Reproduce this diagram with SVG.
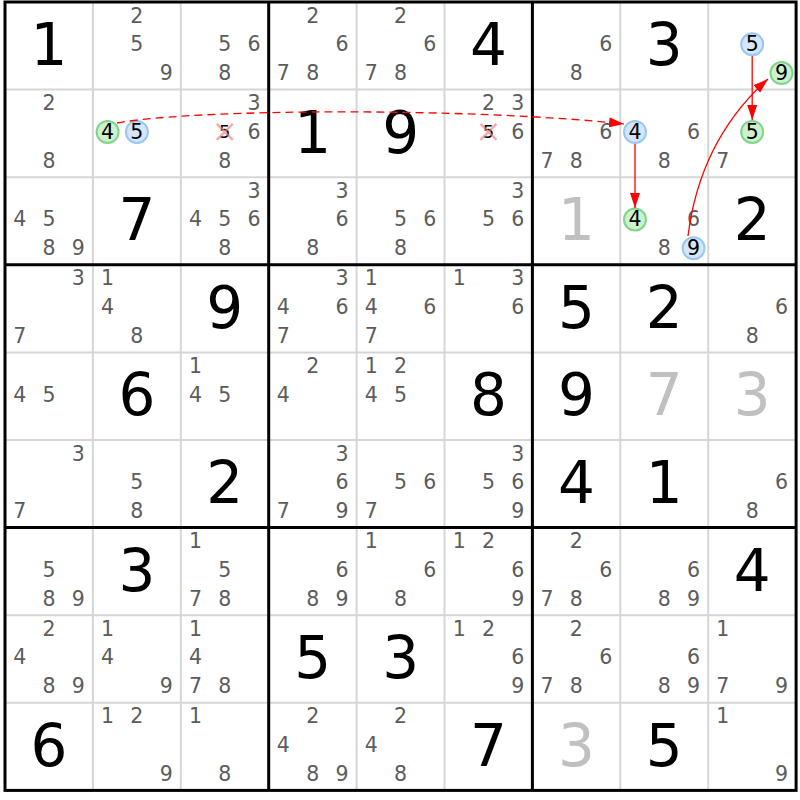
<svg xmlns="http://www.w3.org/2000/svg" width="800" height="800" viewBox="0 0 800 800">
<style>
text{font-family:"DejaVu Sans","Verdana",sans-serif;text-anchor:middle}
.c{font-size:20.5px;fill:#5c5c5c;dominant-baseline:central}
.k{font-size:20.5px;fill:#000;dominant-baseline:central}
.e{font-size:18px;fill:#000;dominant-baseline:central}
.g{font-size:58px;fill:#000}
.s{font-size:58px;fill:#c0c0c0}
.thin{stroke:#d6d6d6;stroke-width:2;fill:none}
.thick{stroke:#000;stroke-width:3;fill:none}
.gr{fill:#cdf0cd;stroke:#7fd48a;stroke-width:2}
.bl{fill:#d5e6fb;stroke:#9ac6f3;stroke-width:2}
.x{stroke:#f08080;stroke-width:2.5;opacity:0.65}
.lk{stroke:#ff0000;stroke-width:1.3;fill:none}
</style>
<defs>
<marker id="ah" viewBox="0 0 15 10" refX="15" refY="5" markerWidth="15" markerHeight="10" markerUnits="userSpaceOnUse" orient="auto"><path d="M0,0 L15,5 L0,10 z" fill="#ff0000"/></marker>
</defs>
<rect x="0" y="0" width="800" height="800" fill="#fff"/>
<g id="grid">
<path class="thin" d="M92.9,2V790.4M180.8,2V790.4M356.6,2V790.4M444.5,2V790.4M620.3,2V790.4M708.2,2V790.4M5,89.6H796.1M5,177.2H796.1M5,352.4H796.1M5,440H796.1M5,615.2H796.1M5,702.8H796.1"/>
<path class="thick" d="M268.7,2V790.4M532.4,2V790.4M5,264.8H796.1M5,527.6H796.1"/>
<rect class="thick" x="5" y="2" width="791.1" height="788.4"/>
</g>
<!-- Row 0 -->
<g id="r0c0" transform="translate(5,2)"><text class="g" x="44" y="63">1</text></g>
<g id="r0c1" transform="translate(92.9,2)"><text class="c" x="44" y="13.5">2</text><text class="c" x="44" y="42.3">5</text><text class="c" x="73.3" y="71.1">9</text></g>
<g id="r0c2" transform="translate(180.8,2)"><text class="c" x="44" y="42.3">5</text><text class="c" x="73.3" y="42.3">6</text><text class="c" x="44" y="71.1">8</text></g>
<g id="r0c3" transform="translate(268.7,2)"><text class="c" x="44" y="13.5">2</text><text class="c" x="73.3" y="42.3">6</text><text class="c" x="14.7" y="71.1">7</text><text class="c" x="44" y="71.1">8</text></g>
<g id="r0c4" transform="translate(356.6,2)"><text class="c" x="44" y="13.5">2</text><text class="c" x="73.3" y="42.3">6</text><text class="c" x="14.7" y="71.1">7</text><text class="c" x="44" y="71.1">8</text></g>
<g id="r0c5" transform="translate(444.5,2)"><text class="g" x="44" y="63">4</text></g>
<g id="r0c6" transform="translate(532.4,2)"><text class="c" x="73.3" y="42.3">6</text><text class="c" x="44" y="71.1">8</text></g>
<g id="r0c7" transform="translate(620.3,2)"><text class="g" x="44" y="63">3</text></g>
<g id="r0c8" transform="translate(708.2,2)"><circle class="bl" cx="44" cy="42.3" r="11"/><text class="k" x="44" y="42.3">5</text><circle class="gr" cx="73.3" cy="71.1" r="11"/><text class="k" x="73.3" y="71.1">9</text></g>
<!-- Row 1 -->
<g id="r1c0" transform="translate(5,89.6)"><text class="c" x="44" y="13.5">2</text><text class="c" x="44" y="71.1">8</text></g>
<g id="r1c1" transform="translate(92.9,89.6)"><circle class="gr" cx="14.7" cy="42.3" r="11"/><text class="k" x="14.7" y="42.3">4</text><circle class="bl" cx="44" cy="42.3" r="11"/><text class="k" x="44" y="42.3">5</text></g>
<g id="r1c2" transform="translate(180.8,89.6)"><text class="c" x="73.3" y="13.5">3</text><text class="e" x="44" y="42.3">5</text><path class="x" d="M36,34.3L52,50.3M52,34.3L36,50.3"/><text class="c" x="73.3" y="42.3">6</text><text class="c" x="44" y="71.1">8</text></g>
<g id="r1c3" transform="translate(268.7,89.6)"><text class="g" x="44" y="63">1</text></g>
<g id="r1c4" transform="translate(356.6,89.6)"><text class="g" x="44" y="63">9</text></g>
<g id="r1c5" transform="translate(444.5,89.6)"><text class="c" x="44" y="13.5">2</text><text class="c" x="73.3" y="13.5">3</text><text class="e" x="44" y="42.3">5</text><path class="x" d="M36,34.3L52,50.3M52,34.3L36,50.3"/><text class="c" x="73.3" y="42.3">6</text></g>
<g id="r1c6" transform="translate(532.4,89.6)"><text class="c" x="73.3" y="42.3">6</text><text class="c" x="14.7" y="71.1">7</text><text class="c" x="44" y="71.1">8</text></g>
<g id="r1c7" transform="translate(620.3,89.6)"><circle class="bl" cx="14.7" cy="42.3" r="11"/><text class="k" x="14.7" y="42.3">4</text><text class="c" x="73.3" y="42.3">6</text><text class="c" x="44" y="71.1">8</text></g>
<g id="r1c8" transform="translate(708.2,89.6)"><circle class="gr" cx="44" cy="42.3" r="11"/><text class="k" x="44" y="42.3">5</text><text class="c" x="14.7" y="71.1">7</text></g>
<!-- Row 2 -->
<g id="r2c0" transform="translate(5,177.2)"><text class="c" x="14.7" y="42.3">4</text><text class="c" x="44" y="42.3">5</text><text class="c" x="44" y="71.1">8</text><text class="c" x="73.3" y="71.1">9</text></g>
<g id="r2c1" transform="translate(92.9,177.2)"><text class="g" x="44" y="63">7</text></g>
<g id="r2c2" transform="translate(180.8,177.2)"><text class="c" x="73.3" y="13.5">3</text><text class="c" x="14.7" y="42.3">4</text><text class="c" x="44" y="42.3">5</text><text class="c" x="73.3" y="42.3">6</text><text class="c" x="44" y="71.1">8</text></g>
<g id="r2c3" transform="translate(268.7,177.2)"><text class="c" x="73.3" y="13.5">3</text><text class="c" x="73.3" y="42.3">6</text><text class="c" x="44" y="71.1">8</text></g>
<g id="r2c4" transform="translate(356.6,177.2)"><text class="c" x="44" y="42.3">5</text><text class="c" x="73.3" y="42.3">6</text><text class="c" x="44" y="71.1">8</text></g>
<g id="r2c5" transform="translate(444.5,177.2)"><text class="c" x="73.3" y="13.5">3</text><text class="c" x="44" y="42.3">5</text><text class="c" x="73.3" y="42.3">6</text></g>
<g id="r2c6" transform="translate(532.4,177.2)"><text class="s" x="44" y="63">1</text></g>
<g id="r2c7" transform="translate(620.3,177.2)"><circle class="gr" cx="14.7" cy="42.3" r="11"/><text class="k" x="14.7" y="42.3">4</text><text class="c" x="73.3" y="42.3">6</text><text class="c" x="44" y="71.1">8</text><circle class="bl" cx="73.3" cy="71.1" r="11"/><text class="k" x="73.3" y="71.1">9</text></g>
<g id="r2c8" transform="translate(708.2,177.2)"><text class="g" x="44" y="63">2</text></g>
<!-- Row 3 -->
<g id="r3c0" transform="translate(5,264.8)"><text class="c" x="73.3" y="13.5">3</text><text class="c" x="14.7" y="71.1">7</text></g>
<g id="r3c1" transform="translate(92.9,264.8)"><text class="c" x="14.7" y="13.5">1</text><text class="c" x="14.7" y="42.3">4</text><text class="c" x="44" y="71.1">8</text></g>
<g id="r3c2" transform="translate(180.8,264.8)"><text class="g" x="44" y="63">9</text></g>
<g id="r3c3" transform="translate(268.7,264.8)"><text class="c" x="73.3" y="13.5">3</text><text class="c" x="14.7" y="42.3">4</text><text class="c" x="73.3" y="42.3">6</text><text class="c" x="14.7" y="71.1">7</text></g>
<g id="r3c4" transform="translate(356.6,264.8)"><text class="c" x="14.7" y="13.5">1</text><text class="c" x="14.7" y="42.3">4</text><text class="c" x="73.3" y="42.3">6</text><text class="c" x="14.7" y="71.1">7</text></g>
<g id="r3c5" transform="translate(444.5,264.8)"><text class="c" x="14.7" y="13.5">1</text><text class="c" x="73.3" y="13.5">3</text><text class="c" x="73.3" y="42.3">6</text></g>
<g id="r3c6" transform="translate(532.4,264.8)"><text class="g" x="44" y="63">5</text></g>
<g id="r3c7" transform="translate(620.3,264.8)"><text class="g" x="44" y="63">2</text></g>
<g id="r3c8" transform="translate(708.2,264.8)"><text class="c" x="73.3" y="42.3">6</text><text class="c" x="44" y="71.1">8</text></g>
<!-- Row 4 -->
<g id="r4c0" transform="translate(5,352.4)"><text class="c" x="14.7" y="42.3">4</text><text class="c" x="44" y="42.3">5</text></g>
<g id="r4c1" transform="translate(92.9,352.4)"><text class="g" x="44" y="63">6</text></g>
<g id="r4c2" transform="translate(180.8,352.4)"><text class="c" x="14.7" y="13.5">1</text><text class="c" x="14.7" y="42.3">4</text><text class="c" x="44" y="42.3">5</text></g>
<g id="r4c3" transform="translate(268.7,352.4)"><text class="c" x="44" y="13.5">2</text><text class="c" x="14.7" y="42.3">4</text></g>
<g id="r4c4" transform="translate(356.6,352.4)"><text class="c" x="14.7" y="13.5">1</text><text class="c" x="44" y="13.5">2</text><text class="c" x="14.7" y="42.3">4</text><text class="c" x="44" y="42.3">5</text></g>
<g id="r4c5" transform="translate(444.5,352.4)"><text class="g" x="44" y="63">8</text></g>
<g id="r4c6" transform="translate(532.4,352.4)"><text class="g" x="44" y="63">9</text></g>
<g id="r4c7" transform="translate(620.3,352.4)"><text class="s" x="44" y="63">7</text></g>
<g id="r4c8" transform="translate(708.2,352.4)"><text class="s" x="44" y="63">3</text></g>
<!-- Row 5 -->
<g id="r5c0" transform="translate(5,440)"><text class="c" x="73.3" y="13.5">3</text><text class="c" x="14.7" y="71.1">7</text></g>
<g id="r5c1" transform="translate(92.9,440)"><text class="c" x="44" y="42.3">5</text><text class="c" x="44" y="71.1">8</text></g>
<g id="r5c2" transform="translate(180.8,440)"><text class="g" x="44" y="63">2</text></g>
<g id="r5c3" transform="translate(268.7,440)"><text class="c" x="73.3" y="13.5">3</text><text class="c" x="73.3" y="42.3">6</text><text class="c" x="14.7" y="71.1">7</text><text class="c" x="73.3" y="71.1">9</text></g>
<g id="r5c4" transform="translate(356.6,440)"><text class="c" x="44" y="42.3">5</text><text class="c" x="73.3" y="42.3">6</text><text class="c" x="14.7" y="71.1">7</text></g>
<g id="r5c5" transform="translate(444.5,440)"><text class="c" x="73.3" y="13.5">3</text><text class="c" x="44" y="42.3">5</text><text class="c" x="73.3" y="42.3">6</text><text class="c" x="73.3" y="71.1">9</text></g>
<g id="r5c6" transform="translate(532.4,440)"><text class="g" x="44" y="63">4</text></g>
<g id="r5c7" transform="translate(620.3,440)"><text class="g" x="44" y="63">1</text></g>
<g id="r5c8" transform="translate(708.2,440)"><text class="c" x="73.3" y="42.3">6</text><text class="c" x="44" y="71.1">8</text></g>
<!-- Row 6 -->
<g id="r6c0" transform="translate(5,527.6)"><text class="c" x="44" y="42.3">5</text><text class="c" x="44" y="71.1">8</text><text class="c" x="73.3" y="71.1">9</text></g>
<g id="r6c1" transform="translate(92.9,527.6)"><text class="g" x="44" y="63">3</text></g>
<g id="r6c2" transform="translate(180.8,527.6)"><text class="c" x="14.7" y="13.5">1</text><text class="c" x="44" y="42.3">5</text><text class="c" x="14.7" y="71.1">7</text><text class="c" x="44" y="71.1">8</text></g>
<g id="r6c3" transform="translate(268.7,527.6)"><text class="c" x="73.3" y="42.3">6</text><text class="c" x="44" y="71.1">8</text><text class="c" x="73.3" y="71.1">9</text></g>
<g id="r6c4" transform="translate(356.6,527.6)"><text class="c" x="14.7" y="13.5">1</text><text class="c" x="73.3" y="42.3">6</text><text class="c" x="44" y="71.1">8</text></g>
<g id="r6c5" transform="translate(444.5,527.6)"><text class="c" x="14.7" y="13.5">1</text><text class="c" x="44" y="13.5">2</text><text class="c" x="73.3" y="42.3">6</text><text class="c" x="73.3" y="71.1">9</text></g>
<g id="r6c6" transform="translate(532.4,527.6)"><text class="c" x="44" y="13.5">2</text><text class="c" x="73.3" y="42.3">6</text><text class="c" x="14.7" y="71.1">7</text><text class="c" x="44" y="71.1">8</text></g>
<g id="r6c7" transform="translate(620.3,527.6)"><text class="c" x="73.3" y="42.3">6</text><text class="c" x="44" y="71.1">8</text><text class="c" x="73.3" y="71.1">9</text></g>
<g id="r6c8" transform="translate(708.2,527.6)"><text class="g" x="44" y="63">4</text></g>
<!-- Row 7 -->
<g id="r7c0" transform="translate(5,615.2)"><text class="c" x="44" y="13.5">2</text><text class="c" x="14.7" y="42.3">4</text><text class="c" x="44" y="71.1">8</text><text class="c" x="73.3" y="71.1">9</text></g>
<g id="r7c1" transform="translate(92.9,615.2)"><text class="c" x="14.7" y="13.5">1</text><text class="c" x="14.7" y="42.3">4</text><text class="c" x="73.3" y="71.1">9</text></g>
<g id="r7c2" transform="translate(180.8,615.2)"><text class="c" x="14.7" y="13.5">1</text><text class="c" x="14.7" y="42.3">4</text><text class="c" x="14.7" y="71.1">7</text><text class="c" x="44" y="71.1">8</text></g>
<g id="r7c3" transform="translate(268.7,615.2)"><text class="g" x="44" y="63">5</text></g>
<g id="r7c4" transform="translate(356.6,615.2)"><text class="g" x="44" y="63">3</text></g>
<g id="r7c5" transform="translate(444.5,615.2)"><text class="c" x="14.7" y="13.5">1</text><text class="c" x="44" y="13.5">2</text><text class="c" x="73.3" y="42.3">6</text><text class="c" x="73.3" y="71.1">9</text></g>
<g id="r7c6" transform="translate(532.4,615.2)"><text class="c" x="44" y="13.5">2</text><text class="c" x="73.3" y="42.3">6</text><text class="c" x="14.7" y="71.1">7</text><text class="c" x="44" y="71.1">8</text></g>
<g id="r7c7" transform="translate(620.3,615.2)"><text class="c" x="73.3" y="42.3">6</text><text class="c" x="44" y="71.1">8</text><text class="c" x="73.3" y="71.1">9</text></g>
<g id="r7c8" transform="translate(708.2,615.2)"><text class="c" x="14.7" y="13.5">1</text><text class="c" x="14.7" y="71.1">7</text><text class="c" x="73.3" y="71.1">9</text></g>
<!-- Row 8 -->
<g id="r8c0" transform="translate(5,702.8)"><text class="g" x="44" y="63">6</text></g>
<g id="r8c1" transform="translate(92.9,702.8)"><text class="c" x="14.7" y="13.5">1</text><text class="c" x="44" y="13.5">2</text><text class="c" x="73.3" y="71.1">9</text></g>
<g id="r8c2" transform="translate(180.8,702.8)"><text class="c" x="14.7" y="13.5">1</text><text class="c" x="44" y="71.1">8</text></g>
<g id="r8c3" transform="translate(268.7,702.8)"><text class="c" x="44" y="13.5">2</text><text class="c" x="14.7" y="42.3">4</text><text class="c" x="44" y="71.1">8</text><text class="c" x="73.3" y="71.1">9</text></g>
<g id="r8c4" transform="translate(356.6,702.8)"><text class="c" x="44" y="13.5">2</text><text class="c" x="14.7" y="42.3">4</text><text class="c" x="44" y="71.1">8</text></g>
<g id="r8c5" transform="translate(444.5,702.8)"><text class="g" x="44" y="63">7</text></g>
<g id="r8c6" transform="translate(532.4,702.8)"><text class="s" x="44" y="63">3</text></g>
<g id="r8c7" transform="translate(620.3,702.8)"><text class="g" x="44" y="63">5</text></g>
<g id="r8c8" transform="translate(708.2,702.8)"><text class="c" x="14.7" y="13.5">1</text><text class="c" x="73.3" y="71.1">9</text></g>
<!-- Connectors -->
<g id="links">
<path class="lk" stroke-width="1.5" stroke-dasharray="8,5" d="M117,123 C200,108 480,108 624,124" marker-end="url(#ah)"/>
<path class="lk" d="M635,144 V208" marker-end="url(#ah)"/>
<path class="lk" d="M752.2,56 V120" marker-end="url(#ah)"/>
<path class="lk" d="M688,236 Q700,140 768,79" marker-end="url(#ah)"/>
</g>
</svg>
